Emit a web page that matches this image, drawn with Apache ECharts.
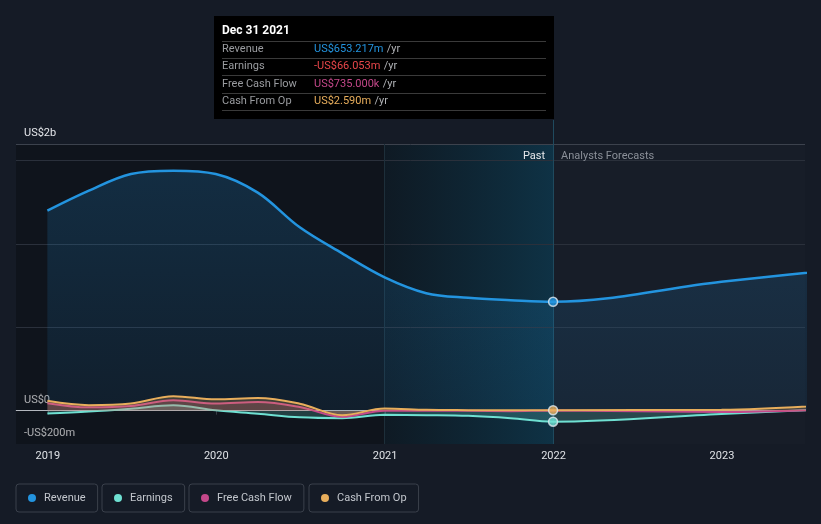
<!DOCTYPE html>
<html>
<head>
<meta charset="utf-8">
<script src="https://cdn.jsdelivr.net/npm/echarts@6/dist/echarts.min.js"></script>
<style>
html,body{margin:0;padding:0;background:#151b26;}
#c{width:821px;height:524px;}
</style>
</head>
<body>
<div id="c"></div>
<script>
// ---- data (values in US$ millions) ----
const dates = ['2018-12-31','2019-03-31','2019-06-30','2019-09-30','2019-12-31','2020-03-31','2020-06-30','2020-09-30','2020-12-31','2021-03-31','2021-06-30','2021-09-30','2021-12-31','2022-12-31','2023-12-31'];
const revenue = [1200, 1320, 1420, 1440, 1420, 1308, 1100, 944, 800, 705, 677, 663, 653.217, 773, 880];
const earnings = [-17, -5, 12, 32, 2, -18, -40, -45, -25, -27, -31, -45, -66.053, -20, 25];
const freeCashFlow = [45, 20, 28, 62, 43, 52, 22, -37, 0, -1, -1, -3, 0.735, -8, 25];
const cashFromOp = [59, 33, 43, 87, 68, 76, 42, -27, 13, 5, 3, 2, 2.59, 6, 60];
const seriesNames = ['Revenue', 'Earnings', 'Free Cash Flow', 'Cash From Op'];
const seriesColors = ['#2394df', '#6fe0d2', '#c4488a', '#e8ae5c'];
const yTickValues = [-200, 0, 1600];
const yTickLabels = ['-US$200m', 'US$0', 'US$2b'];
const gridLineValues = [500, 1000, 1500];
const tooltipDate = '2021-12-31';
const tooltipTitle = 'Dec 31 2021';
const pastStart = '2020-12-31';
const pastLabel = 'Past';
const forecastLabel = 'Analysts Forecasts';
const xMin = '2018-10-24', xMax = '2023-06-30';
const yMin = -200, yTop = 1600, yMax = 1744;

const allSeries = [revenue, earnings, freeCashFlow, cashFromOp];
const pairs = arr => dates.map((d, i) => [d, arr[i]]);
const tipIdx = dates.indexOf(tooltipDate);

function fmt(v) {
  const sign = v < 0 ? '-' : '';
  const a = Math.abs(v);
  if (a >= 1000) return sign + 'US$' + (a / 1000).toFixed(3) + 'b';
  if (a < 1) return sign + 'US$' + (a * 1000).toFixed(3) + 'k';
  return sign + 'US$' + a.toFixed(3) + 'm';
}

const chart = echarts.init(document.getElementById('c'), null, {renderer: 'canvas'});

const legends = seriesNames.map((n, i) => ({
  data: [n],
  left: [16, 102, 189, 309][i],
  top: 484,
  icon: 'circle',
  itemWidth: 8,
  itemHeight: 8,
  padding: [8, 12, 8, 12],
  borderColor: '#3a404b',
  borderWidth: 1,
  borderRadius: 3,
  selectedMode: false,
  textStyle: {color: '#c3c7cd', fontSize: 11, fontFamily: 'Roboto', lineHeight: 12, padding: [0, 0, 0, 3]}
}));

const smallSeries = [1, 2, 3].map(i => ({
  name: seriesNames[i],
  type: 'line',
  data: pairs(allSeries[i]),
  smooth: 0.35,
  showSymbol: false,
  z: 3 + i,
  lineStyle: {color: seriesColors[i], width: 2},
  itemStyle: {color: seriesColors[i]},
  areaStyle: {color: seriesColors[i], opacity: 0.22}
}));

const option = {
  backgroundColor: '#151b26',
  animation: false,
  textStyle: {fontFamily: 'Roboto'},
  legend: legends,
  grid: {left: 16, right: 16, top: 120, bottom: 80},
  xAxis: {
    type: 'time', min: xMin, max: xMax,
    minInterval: 365 * 86400000,
    axisLine: {lineStyle: {color: '#4a505b'}},
    axisTick: {show: true, length: 4, lineStyle: {color: '#4a505b'}},
    splitLine: {show: false},
    axisLabel: {formatter: '{yyyy}', color: '#dfe2e6', fontSize: 11, margin: 7, fontFamily: 'Roboto'}
  },
  yAxis: {
    type: 'value', min: yMin, max: yMax, interval: 200,
    axisLine: {show: false}, axisTick: {show: false}, splitLine: {show: false},
    axisLabel: {
      inside: true, margin: 8, verticalAlign: 'bottom', padding: [0, 0, 5, 0],
      color: '#e4e6ea', fontSize: 11, fontFamily: 'Roboto',
      formatter: v => { const k = yTickValues.indexOf(v); return k >= 0 ? yTickLabels[k] : ''; }
    }
  },
  series: [
    {
      name: seriesNames[0],
      type: 'line',
      data: pairs(revenue),
      smooth: 0.35,
      showSymbol: false,
      z: 2,
      lineStyle: {color: seriesColors[0], width: 2.5},
      itemStyle: {color: seriesColors[0]},
      areaStyle: {
        color: new echarts.graphic.LinearGradient(0, 0, 0, 1, [
          {offset: 0, color: 'rgba(35,148,223,0.28)'},
          {offset: 1, color: 'rgba(35,148,223,0.12)'}
        ])
      },
      markArea: {
        silent: true,
        data: [
          [{xAxis: xMin, yAxis: yMin, itemStyle: {color: 'rgba(0,0,0,0.25)'}}, {xAxis: tooltipDate, yAxis: yTop}],
          [{xAxis: tooltipDate, yAxis: yMin, itemStyle: {color: 'rgba(255,255,255,0.012)'}}, {xAxis: xMax, yAxis: yTop}],
          [{xAxis: pastStart, yAxis: yMin, itemStyle: {color: new echarts.graphic.LinearGradient(0, 0, 1, 0, [
            {offset: 0, color: 'rgba(12,70,95,0.12)'},
            {offset: 1, color: 'rgba(14,80,110,0.5)'}
          ])}}, {xAxis: tooltipDate, yAxis: yTop}]
        ]
      },
      markLine: {
        silent: true, symbol: 'none', z: 1,
        label: {show: false},
        data: [
          ...gridLineValues.map(v => ({yAxis: v, lineStyle: {color: '#2a303b', width: 1, type: 'solid'}})),
          {yAxis: yTop, lineStyle: {color: '#3c424d', width: 1, type: 'solid'}},
          {yAxis: 0, lineStyle: {color: '#b4b8bf', width: 1, type: 'solid'}},
          [{xAxis: pastStart, yAxis: yMin}, {xAxis: pastStart, yAxis: yTop, lineStyle: {color: '#1d2f3a', width: 1, type: 'solid'}}],
          {xAxis: tooltipDate, lineStyle: {color: '#1f4a5e', width: 1, type: 'solid'}}
        ]
      }
    },
    ...smallSeries,
    {
      type: 'scatter',
      z: 10,
      symbolSize: 9,
      data: [0, 1, 3].map(i => ({
        value: [tooltipDate, allSeries[i][tipIdx]],
        itemStyle: {color: seriesColors[i], borderColor: '#dfe9f0', borderWidth: 1.5}
      }))
    }
  ]
};
chart.setOption(option);

// static tooltip + region labels, positioned through the axis scales
const px = chart.convertToPixel({xAxisIndex: 0}, tooltipDate);
const pyTop = chart.convertToPixel({yAxisIndex: 0}, yTop);
const boxW = 340, boxRight = Math.round(px) + 1, boxLeft = boxRight - boxW;
const rowLabels = seriesNames;
const valueColors = allSeries.map((s, i) => (i === 1 && s[tipIdx] < 0) ? '#e8464a' : seriesColors[i]);
const g = [];
g.push({type: 'rect', shape: {x: boxLeft, y: 16, width: boxW, height: 103}, style: {fill: '#000000'}, z: 100});
g.push({type: 'text', x: boxLeft + 8, y: 31, style: {text: tooltipTitle, fill: '#ffffff', font: 'bold 12px Roboto', verticalAlign: 'middle'}, z: 101});
const sepY = [41.5, 58.5, 75.5, 93.5, 110.5];
sepY.forEach(y => g.push({type: 'line', shape: {x1: boxLeft + 8, y1: y, x2: boxRight - 8, y2: y}, style: {stroke: '#3a3a3a', lineWidth: 1}, z: 101}));
const rowY = [49.5, 66.5, 84, 101];
rowLabels.forEach((lab, i) => {
  g.push({type: 'text', x: boxLeft + 8, y: rowY[i], style: {text: lab, fill: '#9a9ca0', font: '11px Roboto', verticalAlign: 'middle'}, z: 101});
  g.push({type: 'text', x: boxLeft + 100, y: rowY[i], style: {
    text: '{v|' + fmt(allSeries[i][tipIdx]) + '} {u|/yr}', verticalAlign: 'middle',
    rich: {v: {fill: valueColors[i], font: '11px Roboto'}, u: {fill: '#b0b2b6', font: '11px Roboto'}}
  }, z: 101});
});
g.push({type: 'text', x: px - 8, y: pyTop + 12, style: {text: pastLabel, fill: '#e6e8eb', font: '11px Roboto', align: 'right', verticalAlign: 'middle'}, z: 50});
g.push({type: 'text', x: px + 8, y: pyTop + 12, style: {text: forecastLabel, fill: '#8b9099', font: '11px Roboto', align: 'left', verticalAlign: 'middle'}, z: 50});
chart.setOption({graphic: g});
</script>
</body>
</html>
